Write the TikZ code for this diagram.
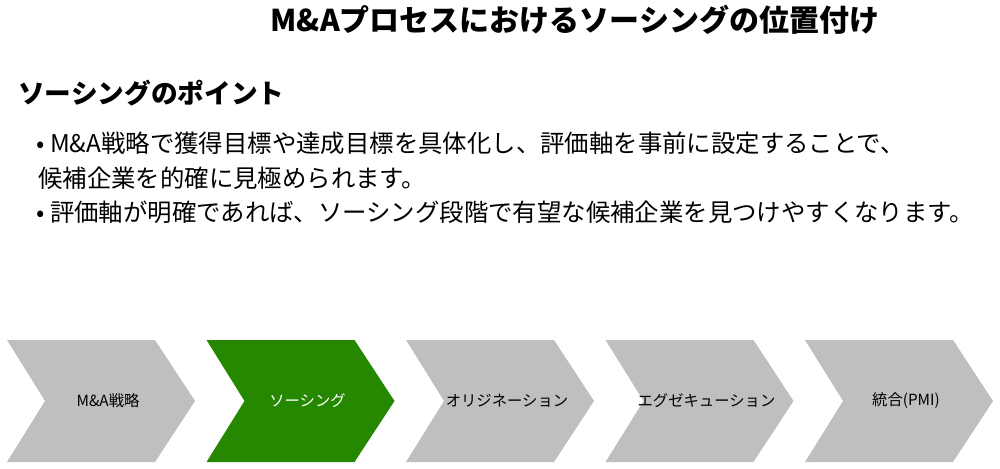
\documentclass[tikz,border=0pt]{standalone}
\usepackage{fontspec}
\setmainfont{Noto Sans CJK JP}
\begin{document}
\begin{tikzpicture}[x=0.75pt,y=-0.75pt,
  chev/.style={fill=#1,draw=none},
  ctext/.style={font=\fontsize{11.5}{13}\selectfont,anchor=center},
  btext/.style={font=\fontsize{18.3}{22}\selectfont,anchor=west,inner sep=0pt}]
\useasboundingbox (0,0) rectangle (1000,468);
\node[font=\bfseries\fontsize{22.5}{26}\selectfont] (title) at (575,20) {M\&Aプロセスにおけるソーシングの位置付け};
\node[font=\bfseries\fontsize{20}{24}\selectfont,anchor=west,inner sep=0pt] (head) at (18,93) {ソーシングのポイント};
\node[btext] (b1) at (36,143) {• M\&A戦略で獲得目標や達成目標を具体化し、評価軸を事前に設定することで、};
\node[btext] (b2) at (38,178) {候補企業を的確に見極められます。};
\node[btext] (b3) at (36,212) {• 評価軸が明確であれば、ソーシング段階で有望な候補企業を見つけやすくなります。};
\foreach \i/\c/\t/\tc in {0/black!25/M\&A戦略/black,1/green!45!black!85!yellow/ソーシング/white,2/black!25/オリジネーション/black,3/black!25/エグゼキューション/black,4/black!25/統合(PMI)/black}{
  \pgfmathsetmacro{\xo}{7+199.5*\i}
  \fill[\c] (\xo,340) -- (\xo+148,340) -- (\xo+188,401) -- (\xo+148,462) -- (\xo,462) -- (\xo+38,401) -- cycle;
  \node[ctext,text=\tc] (c\i) at (\xo+101,401) {\t};
}
\end{tikzpicture}
\end{document}
